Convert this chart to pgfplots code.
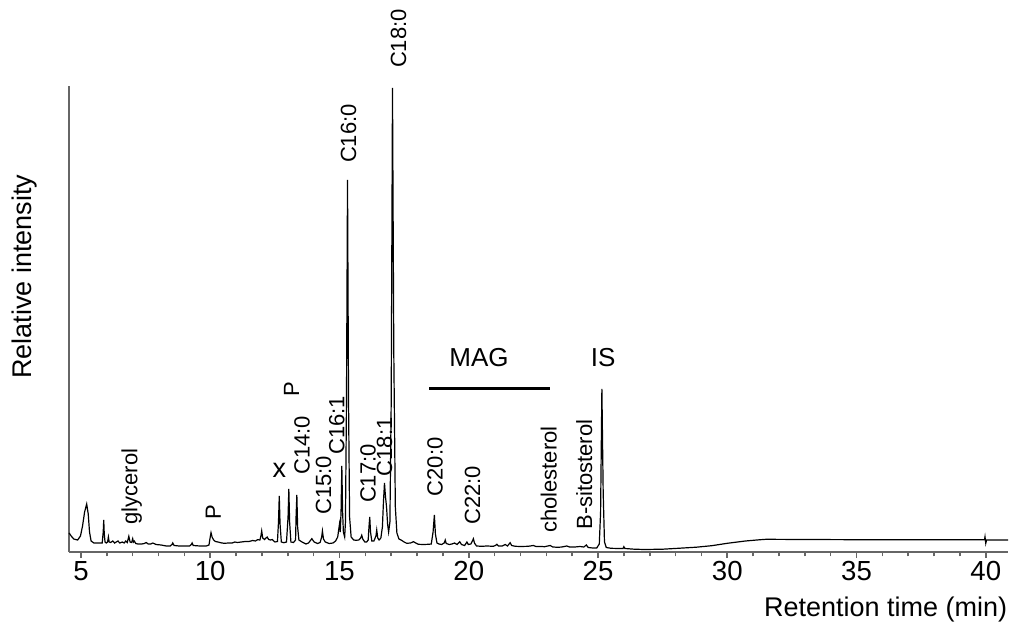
\documentclass[border=0pt]{standalone}
\usepackage{fontspec}
\setmainfont{Liberation Sans}
\usepackage{pgfplots}
\pgfplotsset{compat=1.18}
\begin{document}
\begin{tikzpicture}
\useasboundingbox (-34.5bp,-37.5bp) rectangle (470.5bp,276bp);
\begin{axis}[
  at={(0,0)}, anchor=south west,
  scale only axis,
  width=469.5bp, height=233bp,
  xmin=4.536, xmax=40.86, ymin=0, ymax=466,
  axis x line*=bottom, axis y line*=left,
  axis line style={-, draw=black!60, line width=1bp},
  xtick={5,10,...,40}, minor xtick={6,7,8,9,11,12,13,14,16,17,18,19,21,22,23,24,26,27,28,29,31,32,33,34,36,37,38,39},
  ytick=\empty,
  tick align=outside,
  major tick length=3bp, minor tick length=2.2bp,
  every tick/.style={draw=black!60, line width=0.8bp},
  /pgf/number format/assume math mode=true,
  xticklabel style={font=\fontsize{13.8bp}{15bp}\selectfont, inner sep=0pt, yshift=-1.5bp},
  clip=false,
]
\addplot[black, line width=0.6bp, mark=none] coordinates {
(4.54,19)(4.62,16)(4.72,13)(4.87,12)(4.98,16)(5.06,26)(5.14,40)(5.22,48)(5.28,38)(5.33,20)(5.39,11)(5.5,9)(5.7,9)(5.82,9)(5.86,20)(5.88,32)(5.9,18)(5.93,10)(5.98,9)(6.03,10)(6.06,15)(6.09,10)(6.15,9.5)(6.23,11)(6.3,9)(6.43,11)(6.5,9)(6.6,10)(6.67,9)(6.73,11)(6.79,9.5)(6.85,15.7)(6.9,10)(6.96,9.5)(7.0,13.3)(7.03,10)(7.06,11)(7.12,8.5)(7.2,8)(7.35,8)(7.45,8.5)(7.52,9.5)(7.6,8)(7.7,8)(7.78,9)(7.9,7.5)(8.1,7)(8.3,6)(8.45,6)(8.52,7.5)(8.55,9)(8.6,6.5)(8.8,6)(9.0,6)(9.2,6)(9.27,7.5)(9.3,9)(9.34,6.5)(9.6,6)(9.85,6)(9.95,7)(10.0,15)(10.03,19.3)(10.07,15)(10.13,12)(10.2,10.5)(10.3,10)(10.45,9)(10.55,8.7)(10.7,9)(10.85,9)(10.95,10)(11.05,9.5)(11.2,10)(11.35,10.5)(11.5,10.5)(11.64,11.5)(11.75,11)(11.83,12.3)(11.92,12)(11.96,16)(11.99,21)(12.03,14)(12.1,12.5)(12.2,15)(12.26,12.5)(12.33,12)(12.4,12.5)(12.5,10)(12.6,10.5)(12.64,30)(12.67,56)(12.7,28)(12.75,10)(12.85,9.3)(12.95,10)(13.01,35)(13.04,63)(13.07,30)(13.12,10)(13.22,9.5)(13.3,12)(13.32,35)(13.35,57)(13.38,25)(13.43,12)(13.55,10)(13.7,8)(13.8,9)(13.93,13.3)(14.02,10)(14.15,8.5)(14.25,9.5)(14.31,15)(14.34,21)(14.38,13)(14.45,10)(14.6,8.5)(14.75,9)(14.85,11)(14.93,15)(15.0,28)(15.03,20)(15.06,40)(15.09,86)(15.12,40)(15.15,20)(15.2,15)(15.23,30)(15.27,150)(15.31,372)(15.35,150)(15.39,35)(15.45,15)(15.55,12)(15.64,11.7)(15.75,12)(15.82,14)(15.86,16.7)(15.9,13)(15.98,10)(16.05,10)(16.11,12)(16.14,25)(16.17,35)(16.2,20)(16.25,11)(16.33,11)(16.41,16)(16.44,22)(16.48,14)(16.53,12)(16.6,14)(16.66,25)(16.7,50)(16.74,69)(16.78,55)(16.82,45)(16.86,28)(16.9,20)(16.95,30)(17.0,150)(17.05,464)(17.1,200)(17.16,45)(17.22,19)(17.3,13)(17.4,11.7)(17.5,10)(17.6,8.7)(17.75,9)(17.86,10.3)(17.95,9)(18.05,7.7)(18.25,7.5)(18.44,7.7)(18.55,8)(18.62,20)(18.67,37)(18.71,18)(18.77,9)(18.85,8)(18.95,7.5)(19.05,9)(19.09,12)(19.13,8.5)(19.25,7.5)(19.35,8)(19.45,9)(19.55,7.5)(19.65,10.3)(19.72,7.5)(19.84,6.5)(19.93,10)(19.98,7.5)(20.08,8)(20.14,11)(20.18,13.3)(20.22,9)(20.3,6)(20.5,5.7)(20.7,6)(20.95,5.7)(21.03,6.5)(21.09,7.7)(21.15,6)(21.3,6)(21.41,7.5)(21.5,6)(21.6,9.3)(21.66,6.5)(21.8,5.7)(22.0,5.5)(22.3,5.7)(22.5,6.5)(22.6,5.5)(22.8,5.5)(22.93,5.3)(23.15,6.5)(23.25,5)(23.45,4.7)(23.6,5)(23.79,6)(23.9,5)(24.1,5)(24.3,5.5)(24.45,5)(24.55,7)(24.62,4.5)(24.8,4)(24.95,4)(25.05,8)(25.1,40)(25.15,163)(25.2,60)(25.25,10)(25.32,4.5)(25.5,3.7)(25.8,3.5)(25.97,3.5)(26.0,5.3)(26.04,3.5)(26.4,2.8)(26.8,2.5)(27.5,2.8)(28.1,3.7)(28.8,4.8)(29.4,6.3)(30.0,8.7)(30.7,11)(31.28,12.3)(31.5,12.7)(33,12.5)(35,12.3)(37,12.2)(39.95,12.2)(39.97,15.3)(40.0,8.7)(40.03,12)(40.86,12)
};
% MAG bar
\addplot[black, line width=1.6bp, mark=none] coordinates {(18.47,163.7)(23.14,163.7)};
% labels
\begin{scope}[every node/.style={inner sep=0pt, font=\fontsize{11bp}{12bp}\selectfont}]
\node[rotate=90, anchor=west] at (axis cs:6.96,27) {glycerol};
\node[rotate=90, anchor=west] at (axis cs:10.12,32) {P};
\node[anchor=south, font=\fontsize{13.5bp}{14bp}\selectfont] at (axis cs:12.67,73.7) {x};
\node[rotate=90, anchor=west] at (axis cs:13.55,77) {C14:0};
\node[rotate=90, anchor=west] at (axis cs:13.15,155.3) {P};
\node[rotate=90, anchor=west] at (axis cs:14.38,37) {C15:0};
\node[rotate=90, anchor=west] at (axis cs:14.9,97) {C16:1};
\node[rotate=90, anchor=west] at (axis cs:15.35,388.7) {C16:0};
\node[rotate=90, anchor=west] at (axis cs:16.1,48.7) {C17:0};
\node[rotate=90, anchor=west] at (axis cs:16.74,75.3) {C18:1};
\node[rotate=90, anchor=west] at (axis cs:17.28,483.7) {C18:0};
\node[rotate=90, anchor=west] at (axis cs:18.70,55.3) {C20:0};
\node[rotate=90, anchor=west] at (axis cs:20.15,27) {C22:0};
\node[rotate=90, anchor=west] at (axis cs:23.09,18.7) {cholesterol};
\node[rotate=90, anchor=west] at (axis cs:24.47,22) {B-sitosterol};
\node[anchor=center, font=\fontsize{13bp}{14bp}\selectfont] at (axis cs:20.40,194) {MAG};
\node[anchor=center, font=\fontsize{13bp}{14bp}\selectfont] at (axis cs:25.2,194.5) {IS};
\node[rotate=90, anchor=center, font=\fontsize{13.5bp}{16bp}\selectfont] at (axis cs:2.83,275.5) {Relative intensity};
\node[anchor=east, font=\fontsize{13.5bp}{16bp}\selectfont] at (axis cs:40.84,-58) {Retention time (min)};
\end{scope}
\end{axis}
\end{tikzpicture}
\end{document}
